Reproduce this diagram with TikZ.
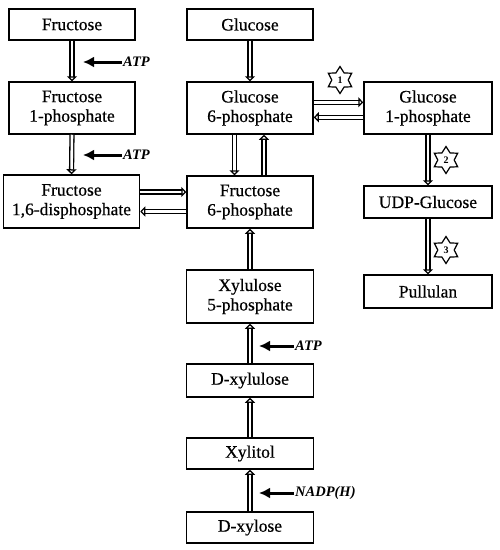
\documentclass[tikz,border=0pt]{standalone}
\usepackage{fontspec}
\setmainfont{Liberation Serif}
\newfontfamily\boxfont[FakeBold=0.5]{Liberation Serif}
\usetikzlibrary{arrows.meta,shapes.geometric}
\begin{document}
\begin{tikzpicture}[x=1pt,y=-1pt,
  box/.style={draw, line width=1.5pt, align=center, inner sep=0pt,
    font=\boxfont\fontsize{17.5}{19.5}\selectfont},
  dbl/.style={double, double distance=2.6pt, line width=1.3pt,
    -{Triangle[open, length=5pt, width=10pt]}},
  cof/.style={line width=3pt, -{Latex[length=11pt, width=11pt]}},
  coflabel/.style={anchor=west, inner sep=1pt, font=\fontsize{14.5}{16}\selectfont\bfseries\itshape},
  starn/.style={draw, star, star points=6, star point ratio=1.65, line width=1.2pt,
    minimum size=27pt, inner sep=0pt, font=\fontsize{10}{11}\selectfont\bfseries}]
\useasboundingbox (0,0) rectangle (500,550);

\node[box, minimum width=126pt, minimum height=31pt] (fru) at (72,24.5) {Fructose};
\node[box, minimum width=126pt, minimum height=52pt] (f1p) at (72,108) {Fructose\\1-phosphate};
\node[box, minimum width=136pt, minimum height=53pt] (f16) at (71.5,201.5) {Fructose\\1,6-disphosphate};
\node[box, minimum width=126pt, minimum height=31pt] (glc) at (250,24.5) {Glucose};
\node[box, minimum width=126pt, minimum height=52pt] (g6p) at (250,108) {Glucose\\6-phosphate};
\node[box, minimum width=128pt, minimum height=52pt] (g1p) at (428,108) {Glucose\\1-phosphate};
\node[box, minimum width=126pt, minimum height=52pt] (f6p) at (250,202) {Fructose\\6-phosphate};
\node[box, minimum width=128pt, minimum height=32pt] (udp) at (428,202) {UDP-Glucose};
\node[box, minimum width=128pt, minimum height=33pt] (pul) at (428,291.5) {Pullulan};
\node[box, minimum width=127pt, minimum height=53pt] (x5p) at (250,296.5) {Xylulose\\5-phosphate};
\node[box, minimum width=127pt, minimum height=33pt] (dxu) at (250,380.5) {D-xylulose};
\node[box, minimum width=127pt, minimum height=31pt] (xyl) at (250,453.5) {Xylitol};
\node[box, minimum width=127pt, minimum height=31pt] (dxs) at (250,527.5) {D-xylose};

% double arrows
\draw[dbl] (fru.south) -- (f1p.north);
\draw[dbl] (f1p.south) -- (f16.north);
\draw[dbl] (glc.south) -- (g6p.north);
\draw[dbl] ([yshift=9.5pt]f16.east) -- ([yshift=9.5pt]f16.east -| f6p.west);
\draw[dbl] ([yshift=-9.5pt]f6p.west) -- ([yshift=-9.5pt]f6p.west -| f16.east);
\draw[dbl] ([xshift=-15.5pt]g6p.south) -- ([xshift=-15.5pt]f6p.north);
\draw[dbl] ([xshift=14pt]f6p.north) -- ([xshift=14pt]g6p.south);
\draw[dbl] ([yshift=5.7pt]g6p.east) -- ([yshift=5.7pt]g6p.east -| g1p.west);
\draw[dbl] ([yshift=-9.3pt]g1p.west) -- ([yshift=-9.3pt]g1p.west -| g6p.east);
\draw[dbl] (g1p.south) -- (udp.north);
\draw[dbl] (udp.south) -- (pul.north);
\draw[dbl] (x5p.north) -- (f6p.south);
\draw[dbl] (dxu.north) -- (x5p.south);
\draw[dbl] (xyl.north) -- (dxu.south);
\draw[dbl] (dxs.north) -- (xyl.south);

% cofactors
\node[coflabel] (atp1) at (122,62) {ATP};
\coordinate (atp1e) at (83,62);
\draw[cof] (atp1.west) -- (atp1e);
\node[coflabel] (atp2) at (122,155) {ATP};
\coordinate (atp2e) at (83,155);
\draw[cof] (atp2.west) -- (atp2e);
\node[coflabel] (atp3) at (294,346) {ATP};
\coordinate (atp3e) at (259,346);
\draw[cof] (atp3.west) -- (atp3e);
\node[coflabel] (nadp) at (294,493) {NADP(H)};
\coordinate (nadpe) at (259,493);
\draw[cof] (nadp.west) -- (nadpe);

% stars
\node[starn] (s1) at (340,80) {1};
\node[starn] (s2) at (446,160) {2};
\node[starn] (s3) at (446,250) {3};
\end{tikzpicture}
\end{document}
